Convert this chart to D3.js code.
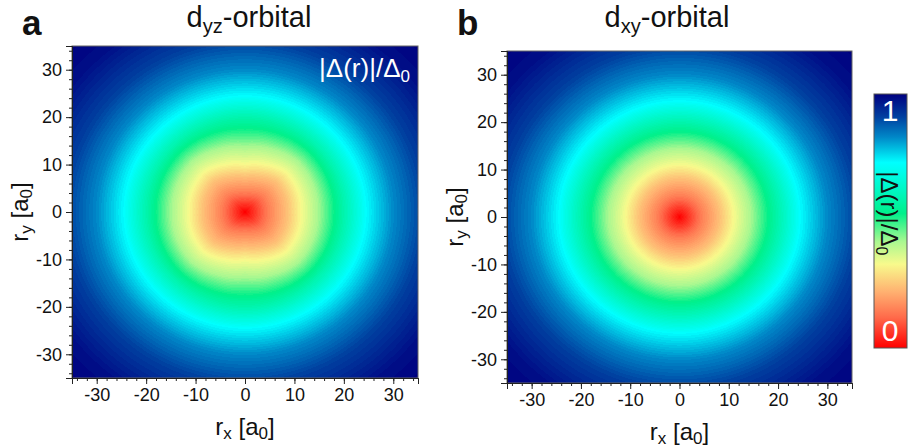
<!DOCTYPE html>
<html>
<head>
<meta charset="utf-8">
<script src="https://cdn.jsdelivr.net/npm/d3@7"></script>
<style>
  body { margin: 0; background: #fff; }
  svg text { font-family: "Liberation Sans", Arial, sans-serif; }
</style>
</head>
<body>
<div id="chart"></div>
<script>
// radial profile of |Delta(r)|/Delta0 (r in a0)
var profileR = [0, 4.5, 8, 11, 14.5, 18, 21.5, 24.5, 30, 36, 44, 50];
var profileV = [0, 0.15, 0.24, 0.33, 0.42, 0.53, 0.63, 0.73, 0.83, 0.91, 0.98, 1];

// d_yz core is a rounded box: contour radius factor vs angle (deg), fades out with r
var dyzAngles = [0, 22.5, 45, 67.5, 90];
var dyzStretch = [1.04, 1.07, 1.1, 0.98, 0.91];
var dyzFadeR = [0, 9, 20];
var dyzFadeW = [1, 1, 0];

// colour bar stops
var cbarStops = [0, 0.12, 0.22, 0.33, 0.42, 0.53, 0.63, 0.73, 0.83, 0.91, 1];
var cbarColors = ["#ff0000", "#ff6a4a", "#ffb070", "#f8fa8c", "#a8f890", "#00f08a",
                  "#00f8c8", "#00ffff", "#0088c8", "#0040a0", "#000080"];

var majorTicks = [-30, -20, -10, 0, 10, 20, 30];
var minorTicks = d3.range(-34, 35, 2);

var panels = [
  {letter: "a", title: "yz", tx: 249, x0: 72, x1: 418, y0: 46, y1: 378, shape: "dyz"},
  {letter: "b", title: "xy", tx: 667, x0: 507, x1: 852, y0: 51, y1: 383, shape: "dxy"}
];

var W = 908, H = 447;

var svg = d3.select("#chart").append("svg")
    .attr("width", W)
    .attr("height", H);

var profile = d3.scaleLinear().domain(profileR).range(profileV).clamp(true);
var stretch = d3.scaleLinear().domain(dyzAngles).range(dyzStretch).clamp(true);
var fade = d3.scaleLinear().domain(dyzFadeR).range(dyzFadeW).clamp(true);
var colorscale = d3.scaleLinear().domain(cbarStops).range(cbarColors)
    .interpolate(d3.interpolateRgb);

function fieldValue(ux, uy, shape) {
  var r = Math.sqrt(ux * ux + uy * uy);
  if (shape == "dyz") {
    var ang = Math.abs(Math.atan2(uy, ux)) * 180 / Math.PI;
    if (ang > 90) ang = 180 - ang;
    var s = 1 + fade(r) * (stretch(ang) - 1);
    r = r / s;
  }
  var v = profile(r);
  // filled contour look
  return Math.round(v * 110) / 110;
}

panels.forEach(function(p) {
  var w = p.x1 - p.x0, h = p.y1 - p.y0;

  var x = d3.scaleLinear().domain([-35, 35]).range([p.x0, p.x1]);
  var y = d3.scaleLinear().domain([-35, 35]).range([p.y1, p.y0]);

  // heat map painted on a canvas, placed as an image
  var canvas = document.createElement("canvas");
  canvas.width = w;
  canvas.height = h;
  var ctx = canvas.getContext("2d");
  var img = ctx.createImageData(w, h);
  for (var j = 0; j < h; j++) {
    for (var i = 0; i < w; i++) {
      var ux = x.invert(p.x0 + i + 0.5);
      var uy = y.invert(p.y0 + j + 0.5);
      var c = d3.rgb(colorscale(fieldValue(ux, uy, p.shape)));
      var k = (j * w + i) * 4;
      img.data[k] = c.r;
      img.data[k + 1] = c.g;
      img.data[k + 2] = c.b;
      img.data[k + 3] = 255;
    }
  }
  ctx.putImageData(img, 0, 0);

  svg.append("image")
      .attr("x", p.x0)
      .attr("y", p.y0)
      .attr("width", w)
      .attr("height", h)
      .attr("preserveAspectRatio", "none")
      .attr("href", canvas.toDataURL());

  // frame
  svg.append("rect")
      .attr("x", p.x0)
      .attr("y", p.y0)
      .attr("width", w)
      .attr("height", h)
      .attr("fill", "none")
      .attr("stroke", "#666")
      .attr("stroke-width", 1);

  var xAxis = d3.axisBottom(x).tickValues(majorTicks).tickSize(6).tickPadding(4)
      .tickFormat(function(d) { return String(d); });
  var xMinor = d3.axisBottom(x).tickValues(minorTicks).tickSize(3).tickFormat("");
  var yAxis = d3.axisLeft(y).tickValues(majorTicks).tickSize(6).tickPadding(4)
      .tickFormat(function(d) { return String(d); });
  var yMinor = d3.axisLeft(y).tickValues(minorTicks).tickSize(3).tickFormat("");

  function styleAxis(g) {
    g.select(".domain").attr("stroke", "#222");
    g.selectAll(".tick line").attr("stroke", "#222");
    g.selectAll(".tick text")
      .style("font-family", "'Liberation Sans', Arial, sans-serif")
      .style("font-size", "18px")
      .attr("fill", "#111");
  }

  svg.append("g").attr("transform", "translate(0," + p.y1 + ")").call(xMinor).call(styleAxis);
  svg.append("g").attr("transform", "translate(0," + p.y1 + ")").call(xAxis).call(styleAxis);
  svg.append("g").attr("transform", "translate(" + p.x0 + ",0)").call(yMinor).call(styleAxis);
  svg.append("g").attr("transform", "translate(" + p.x0 + ",0)").call(yAxis).call(styleAxis);

  var cx = (p.x0 + p.x1) / 2, cy = (p.y0 + p.y1) / 2;

  // x label
  var xl = svg.append("text")
      .attr("x", cx)
      .attr("y", p.y1 + 57)
      .attr("text-anchor", "middle")
      .style("font-size", "24px")
      .attr("fill", "#111");
  xl.append("tspan").text("r");
  xl.append("tspan").attr("dy", 4).style("font-size", "17px").text("x");
  xl.append("tspan").attr("dy", -4).text(" [a");
  xl.append("tspan").attr("dy", 4).style("font-size", "17px").text("0");
  xl.append("tspan").attr("dy", -4).text("]");

  // y label
  var yl = svg.append("text")
      .attr("transform", "translate(" + (p.x0 - 44) + "," + cy + ") rotate(-90)")
      .attr("text-anchor", "middle")
      .style("font-size", "24px")
      .attr("fill", "#111");
  yl.append("tspan").text("r");
  yl.append("tspan").attr("dy", 4).style("font-size", "17px").text("y");
  yl.append("tspan").attr("dy", -4).text(" [a");
  yl.append("tspan").attr("dy", 4).style("font-size", "17px").text("0");
  yl.append("tspan").attr("dy", -4).text("]");

  // panel title
  var t = svg.append("text")
      .attr("x", p.tx)
      .attr("y", 27)
      .attr("text-anchor", "middle")
      .style("font-size", "29px")
      .attr("fill", "#111");
  t.append("tspan").text("d");
  t.append("tspan").attr("dy", 6).style("font-size", "20px").text(p.title);
  t.append("tspan").attr("dy", -6).text("-orbital");

  // panel letter
  svg.append("text")
      .attr("x", p.x0 - 50)
      .attr("y", 35)
      .style("font-size", "35px")
      .style("font-weight", "bold")
      .attr("fill", "#111")
      .text(p.letter);
});

// label inside panel a
var lab = svg.append("text")
    .attr("x", 410)
    .attr("y", 77)
    .attr("text-anchor", "end")
    .style("font-size", "26px")
    .attr("fill", "#fff");
lab.append("tspan").text("|\u0394(r)|/\u0394");
lab.append("tspan").attr("dy", 5).style("font-size", "17px").text("0");

// colour bar
var cb = {x0: 874, x1: 907, y0: 94, y1: 348};
var cy = d3.scaleLinear().domain([0, 1]).range([cb.y1, cb.y0]);

var defs = svg.append("defs");
var grad = defs.append("linearGradient")
    .attr("id", "cbar")
    .attr("x1", 0).attr("y1", 1)
    .attr("x2", 0).attr("y2", 0);
grad.selectAll("stop")
    .data(cbarStops)
    .enter().append("stop")
    .attr("offset", function(d) { return d; })
    .attr("stop-color", function(d, i) { return cbarColors[i]; });

svg.append("rect")
    .attr("x", cb.x0)
    .attr("y", cy(1))
    .attr("width", cb.x1 - cb.x0)
    .attr("height", cy(0) - cy(1))
    .attr("fill", "url(#cbar)")
    .attr("stroke", "#555")
    .attr("stroke-width", 1);

svg.append("text")
    .attr("x", 890)
    .attr("y", cy(1) + 27)
    .attr("text-anchor", "middle")
    .style("font-size", "30px")
    .attr("fill", "#fff")
    .text("1");

svg.append("text")
    .attr("x", 890)
    .attr("y", cy(0) - 7)
    .attr("text-anchor", "middle")
    .style("font-size", "30px")
    .attr("fill", "#fff")
    .text("0");

var cl = svg.append("text")
    .attr("transform", "translate(881," + cy(0.53) + ") rotate(90)")
    .attr("text-anchor", "middle")
    .style("font-size", "24px")
    .attr("fill", "#111");
cl.append("tspan").text("|\u0394(r)|/\u0394");
cl.append("tspan").attr("dy", 5).style("font-size", "16px").text("0");
</script>
</body>
</html>
